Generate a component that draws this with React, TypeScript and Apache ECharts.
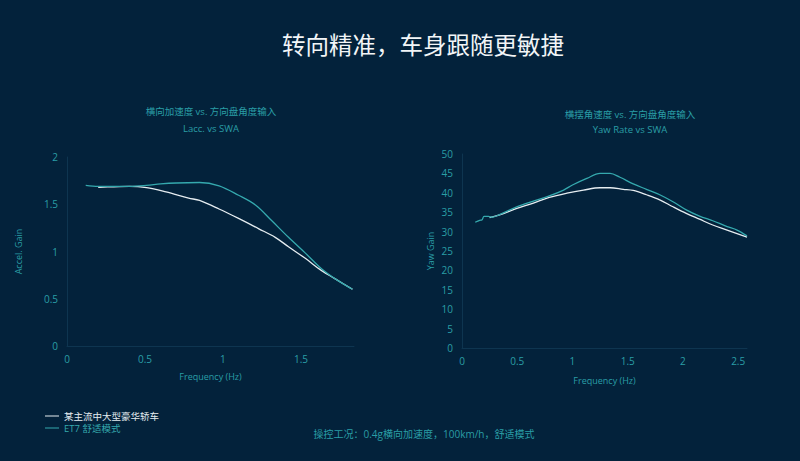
import React, { useEffect, useRef } from "react";
import * as echarts from "echarts";

const laccEt7Freq = [0.12, 0.2, 0.3, 0.4, 0.51, 0.6, 0.7, 0.85, 0.975, 1.1, 1.21, 1.31, 1.42, 1.53, 1.63, 1.72, 1.83];
const laccEt7Gain = [1.70, 1.69, 1.69, 1.69, 1.70, 1.715, 1.725, 1.73, 1.695, 1.595, 1.49, 1.33, 1.15, 0.98, 0.82, 0.71, 0.60];
const laccRefFreq = [0.2, 0.3, 0.4, 0.51, 0.635, 0.78, 0.85, 0.975, 1.1, 1.23, 1.335, 1.42, 1.53, 1.63, 1.72, 1.83];
const laccRefGain = [1.68, 1.685, 1.69, 1.676, 1.63, 1.565, 1.54, 1.45, 1.35, 1.24, 1.15, 1.05, 0.925, 0.80, 0.71, 0.60];

const yawEt7Freq = [0.12, 0.16, 0.18, 0.2, 0.24, 0.27, 0.34, 0.49, 0.64, 0.79, 0.92, 1.0, 1.13, 1.25, 1.34, 1.43, 1.55, 1.67, 1.79, 1.91, 2.03, 2.15, 2.27, 2.4, 2.49, 2.58];
const yawEt7Gain = [32.4, 32.9, 33.0, 33.9, 33.9, 33.7, 34.4, 36.3, 37.8, 39.2, 40.7, 42.0, 43.7, 45.0, 45.0, 44.0, 42.3, 40.9, 39.5, 37.7, 35.6, 34.0, 32.8, 31.3, 30.4, 28.9];
const yawRefFreq = [0.25, 0.34, 0.49, 0.64, 0.79, 0.95, 1.1, 1.25, 1.34, 1.46, 1.55, 1.67, 1.79, 1.91, 2.03, 2.15, 2.27, 2.4, 2.58];
const yawRefGain = [33.6, 34.3, 35.9, 37.3, 38.8, 39.9, 40.7, 41.3, 41.3, 40.9, 40.6, 39.5, 38.2, 36.4, 34.7, 33.2, 31.7, 30.4, 28.6];

const refName = "某主流中大型豪华轿车";
const et7Name = "ET7 舒适模式";
const pageTitle = "转向精准，车身跟随更敏捷";
const leftTitle = "横向加速度 vs. 方向盘角度输入";
const leftSub = "Lacc. vs SWA";
const rightTitle = "横摆角速度 vs. 方向盘角度输入";
const rightSub = "Yaw Rate vs SWA";
const footnote = "操控工况：0.4g横向加速度，100km/h，舒适模式";

const zip = (xs: number[], ys: number[]) => xs.map((x, i) => [x, ys[i]]);

const BG = "#03223b";
const TEAL = "#35a9ae";
const LABEL = "#2a9ea6";
const WHITE = "#e6edf1";
const FONT = "'Open Sans', 'Noto Sans CJK SC', sans-serif";

export default function App() {
  const ref = useRef<HTMLDivElement>(null);
  useEffect(() => {
    document.body.style.margin = "0";
    const chart = echarts.init(ref.current!, undefined, { renderer: "svg" });
    const axisCommon = {
      axisLine: { show: true, lineStyle: { color: "#0e3550", width: 1 } },
      axisTick: { show: false },
      splitLine: { show: false },
      axisLabel: { color: LABEL, fontSize: 10, fontFamily: FONT },
      nameTextStyle: { color: LABEL, fontSize: 9, fontFamily: FONT },
    };
    const lineSeries = (name: string, data: number[][], idx: number, color: string) => ({
      name,
      type: "line",
      xAxisIndex: idx,
      yAxisIndex: idx,
      data,
      smooth: 0.35,
      symbol: "none",
      lineStyle: { color, width: 1.3 },
      itemStyle: { color },
    });
    const sub = { color: LABEL, fontSize: 9.5, fontWeight: "normal" as const };
    chart.setOption({
      animation: false,
      backgroundColor: BG,
      textStyle: { fontFamily: FONT },
      title: [
        { text: pageTitle, left: 418, top: 28, textAlign: "center", textStyle: { color: "#f2f5f7", fontSize: 23.5, fontWeight: "normal", fontFamily: FONT } },
        { text: leftTitle, left: 206, top: 102, textAlign: "center", textStyle: sub },
        { text: leftSub, left: 206, top: 119, textAlign: "center", textStyle: sub },
        { text: rightTitle, left: 625, top: 105, textAlign: "center", textStyle: sub },
        { text: rightSub, left: 625, top: 120, textAlign: "center", textStyle: sub },
        { text: footnote, left: 419, top: 424, textAlign: "center", textStyle: { color: LABEL, fontSize: 10, fontWeight: "normal" } },
      ],
      legend: {
        orient: "vertical",
        left: 40,
        top: 406,
        icon: "rect",
        itemWidth: 14,
        itemHeight: 1,
        itemGap: 2,
        textStyle: { fontSize: 9.5, lineHeight: 10, fontFamily: FONT },
        data: [
          { name: refName, textStyle: { color: WHITE } },
          { name: et7Name, textStyle: { color: TEAL } },
        ],
      },
      grid: [
        { left: 67, right: 446, top: 157, bottom: 115 },
        { left: 462, right: 53, top: 154, bottom: 113 },
      ],
      xAxis: [
        { ...axisCommon, gridIndex: 0, type: "value", min: 0, max: 1.84, interval: 0.5, axisLabel: { ...axisCommon.axisLabel, showMaxLabel: false, margin: 8 }, name: "Frequency (Hz)", nameLocation: "middle", nameGap: 26 },
        { ...axisCommon, gridIndex: 1, type: "value", min: 0, max: 2.58, interval: 0.5, axisLabel: { ...axisCommon.axisLabel, showMaxLabel: false, margin: 8 }, name: "Frequency (Hz)", nameLocation: "middle", nameGap: 28 },
      ],
      yAxis: [
        { ...axisCommon, gridIndex: 0, type: "value", min: 0, max: 2, interval: 0.5, axisLabel: { ...axisCommon.axisLabel, margin: 9 }, name: "Accel. Gain", nameLocation: "middle", nameGap: 44 },
        { ...axisCommon, gridIndex: 1, type: "value", min: 0, max: 50, interval: 5, axisLabel: { ...axisCommon.axisLabel, margin: 9 }, name: "Yaw Gain", nameLocation: "middle", nameGap: 27 },
      ],
      series: [
        lineSeries(refName, zip(laccRefFreq, laccRefGain), 0, WHITE),
        lineSeries(et7Name, zip(laccEt7Freq, laccEt7Gain), 0, TEAL),
        lineSeries(refName, zip(yawRefFreq, yawRefGain), 1, WHITE),
        lineSeries(et7Name, zip(yawEt7Freq, yawEt7Gain), 1, TEAL),
      ],
    });
    return () => chart.dispose();
  }, []);
  return <div ref={ref} style={{ width: 800, height: 461 }} />;
}
